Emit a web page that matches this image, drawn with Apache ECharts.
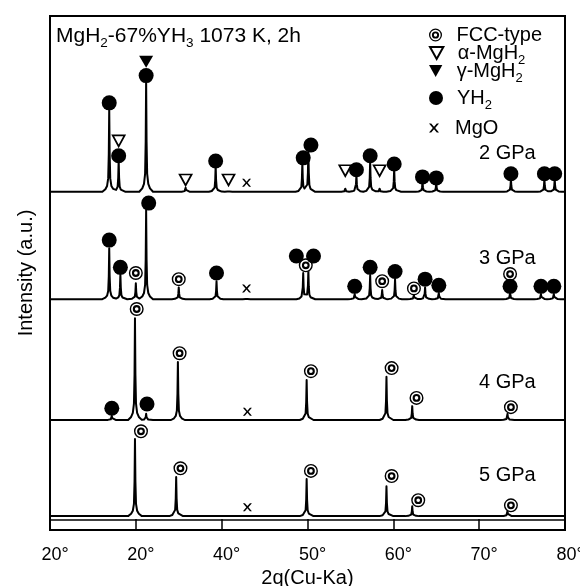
<!DOCTYPE html>
<html><head><meta charset="utf-8">
<script src="https://cdn.jsdelivr.net/npm/echarts@6/dist/echarts.min.js"></script>
<style>html,body{margin:0;padding:0;background:#fff}#c{width:580px;height:586px}</style>
</head><body><div id="c"></div>
<script>
const FONT = 'Liberation Sans, Arial, Helvetica, sans-serif';
const X_TICK_LABELS = ['20°','20°','40°','50°','60°','70°','80°'];
const PRESSURES = ['2 GPa','3 GPa','4 GPa','5 GPa'];
const BASELINES = [65.8, 44.9, 21.4, 2.7];

// peaks: [2theta, height above baseline]
const PEAKS_2GPA = [[26.9,16.3],[28.0,6.2],[31.2,21.8],[35.8,0.8],[39.3,5.1],[40.8,0.4],[49.4,5.6],[50.1,8.2],[54.4,0.6],[55.7,3.3],[57.3,6.0],[58.4,0.6],[60.1,4.5],[63.4,2.0],[65.0,1.8],[73.7,2.5],[77.6,2.5],[78.8,2.5]];
const PEAKS_3GPA = [[26.9,9.9],[28.2,4.9],[30.0,3.1],[31.2,17.3],[35.0,2.3],[39.4,3.5],[42.9,0.3],[49.5,5.0],[50.1,5.5],[55.5,1.0],[57.3,4.7],[58.7,1.8],[60.2,3.9],[62.4,0.8],[63.7,2.3],[65.3,1.2],[73.6,1.5],[77.2,1.0],[78.7,1.0]];
const PEAKS_4GPA = [[27.2,0.8],[29.9,19.8],[31.2,1.2],[34.9,11.3],[49.9,7.8],[59.2,8.4],[62.2,2.7],[73.3,1.2]];
const PEAKS_5GPA = [[29.9,15.0],[34.7,7.6],[49.9,7.2],[59.2,5.8],[62.2,1.9],[73.3,1.0]];

// phase markers: [2theta, height above baseline]
const FCC_2GPA = [];
const FCC_3GPA = [[30.0,5.1],[35.0,3.9],[49.8,6.6],[58.7,3.5],[62.4,2.1],[73.6,4.9]];
const FCC_4GPA = [[30.1,21.6],[35.1,13.0],[50.4,9.5],[59.8,10.1],[62.7,4.3],[73.7,2.5]];
const FCC_5GPA = [[30.6,16.5],[35.2,9.3],[50.4,8.8],[59.8,7.8],[62.9,3.1],[73.7,2.1]];
const ALPHA_2GPA = [[28.0,9.9],[35.8,2.3],[40.8,2.3],[54.4,4.1],[58.4,4.1]];
const GAMMA_2GPA = [[31.2,25.3]];
const YH2_2GPA = [[26.9,17.3],[28.0,7.0],[31.2,22.6],[39.3,6.0],[49.5,6.6],[50.4,9.1],[55.7,4.3],[57.3,7.0],[60.1,5.4],[63.4,2.9],[65.0,2.7],[73.7,3.5],[77.6,3.5],[78.8,3.5]];
const YH2_3GPA = [[26.9,11.5],[28.2,6.2],[31.5,18.7],[39.4,5.1],[48.7,8.4],[50.7,8.4],[55.5,2.5],[57.3,6.2],[60.2,5.4],[63.7,3.9],[65.3,2.7],[73.6,2.5],[77.2,2.5],[78.7,2.5]];
const YH2_4GPA = [[27.2,2.3],[31.3,3.1]];
const MGO_2GPA = [[42.9,1.75]];
const MGO_3GPA = [[42.9,2.1]];
const MGO_4GPA = [[43.0,1.6]];
const MGO_5GPA = [[43.0,1.75]];
const SEPARATOR_Y = 2.05;

const LEGEND_NAMES = ['FCC-type','α-MgH2','γ-MgH2','YH2','MgO'];

// drawing helpers (peak profile shape = style)
const SHAPE = [[-0.8,0],[-0.45,0.03],[-0.25,0.07],[-0.12,0.16],[-0.05,0.45],[0,1],[0.05,0.45],[0.12,0.16],[0.25,0.07],[0.45,0.03],[0.8,0]];
function shapeAt(dx){
  if (dx <= SHAPE[0][0] || dx >= SHAPE[SHAPE.length-1][0]) return 0;
  for (let k=1;k<SHAPE.length;k++){
    if (dx <= SHAPE[k][0]) {
      const [x0,y0]=SHAPE[k-1],[x1,y1]=SHAPE[k];
      return y0 + (y1-y0)*(dx-x0)/(x1-x0);
    }
  }
  return 0;
}
function buildTrace(peaks, base){
  const xs = new Set([20,80]);
  peaks.forEach(([p]) => SHAPE.forEach(([dx]) => xs.add(+(p+dx).toFixed(3))));
  return [...xs].filter(x=>x>=20&&x<=80).sort((a,b)=>a-b).map(x=>{
    let y = base;
    peaks.forEach(([p,h]) => { y += h*shapeAt(x-p); });
    return [x,y];
  });
}
const abs = (arr, i) => arr.map(([x,h]) => [x, h + BASELINES[i]]);
const ALL_PEAKS = [PEAKS_2GPA, PEAKS_3GPA, PEAKS_4GPA, PEAKS_5GPA];
const fccData = [].concat(abs(FCC_2GPA,0), abs(FCC_3GPA,1), abs(FCC_4GPA,2), abs(FCC_5GPA,3));
const alphaData = abs(ALPHA_2GPA,0);
const gammaData = abs(GAMMA_2GPA,0);
const yh2Data = [].concat(abs(YH2_2GPA,0), abs(YH2_3GPA,1), abs(YH2_4GPA,2));
const mgoData = [].concat(abs(MGO_2GPA,0), abs(MGO_3GPA,1), abs(MGO_4GPA,2), abs(MGO_5GPA,3));

const RING = 'path://M14,7A7,7,0,1,1,0,7A7,7,0,1,1,14,7Z M12.6,7A5.6,5.6,0,1,0,1.4,7A5.6,5.6,0,1,0,12.6,7Z M10.9,7A3.9,3.9,0,1,1,3.1,7A3.9,3.9,0,1,1,10.9,7Z M8.8,7A1.8,1.8,0,1,0,5.2,7A1.8,1.8,0,1,0,8.8,7Z';
const TRI = 'path://M0,0L10,0L5,9Z';
const CROSS = 'path://M0,0L2.2,0L5,3.3L7.8,0L10,0L6.2,4.5L10,9L7.8,9L5,5.7L2.2,9L0,9L3.8,4.5Z';

const RICH = {
  t:{fontSize:20, lineHeight:28, fontFamily:FONT, color:'#000'},
  s:{fontSize:13, lineHeight:12, verticalAlign:'bottom', fontFamily:FONT, color:'#000'}
};
const RICH_TITLE = {
  t:{fontSize:21, lineHeight:28, fontFamily:FONT, color:'#000'},
  s:{fontSize:13.5, lineHeight:12, verticalAlign:'bottom', fontFamily:FONT, color:'#000'}
};
const toRich = name => '{t|' + name.replace(/(\d)$/, '}{s|$1') + '}';

const chart = echarts.init(document.getElementById('c'), null, {renderer:'canvas'});
const lineSeries = PRESSURES.map((p,i)=>({
  type:'line', name:p, data: buildTrace(ALL_PEAKS[i], BASELINES[i]),
  symbol:'none', showSymbol:false, silent:true, z:2,
  lineStyle:{color:'#000', width:2, join:'round'},
  markLine: i===3 ? {symbol:'none', silent:true, label:{show:false},
    lineStyle:{color:'#000', width:1.6, type:'solid'}, data:[{yAxis:SEPARATOR_Y}]} : undefined
}));
const legendIconH = [13,12,12,14,9];
const legendCY = [34,52,70,97,127];
chart.setOption({
  animation:false,
  grid:{left:50, right:15, top:16, bottom:56, show:true, borderColor:'#000', borderWidth:2, backgroundColor:'transparent', containLabel:false, outerBoundsMode:'none'},
  xAxis:{type:'value', min:20, max:80, interval:10,
    axisLine:{show:true, lineStyle:{color:'#000', width:2}},
    axisTick:{show:true, inside:true, length:11, lineStyle:{color:'#000', width:1.5}},
    splitLine:{show:false},
    axisLabel:{color:'#000', fontSize:18, fontFamily:FONT, margin:16, padding:[0,0,0,10], hideOverlap:false,
      formatter:(v)=>X_TICK_LABELS[Math.round((v-20)/10)]},
    name:'2q(Cu-Ka)', nameLocation:'middle', nameGap:33,
    nameTextStyle:{color:'#000', fontSize:20, fontFamily:FONT}},
  yAxis:{type:'value', min:0, max:100,
    axisLine:{show:true, lineStyle:{color:'#000', width:2}},
    axisTick:{show:false}, axisLabel:{show:false}, splitLine:{show:false},
    name:'Intensity (a.u.)', nameLocation:'middle', nameGap:14, nameRotate:90,
    nameTextStyle:{color:'#000', fontSize:20, fontFamily:FONT}},
  legend: LEGEND_NAMES.map((n,i)=>({
    data:[n], orient:'vertical', left:429, top:legendCY[i]-9, padding:0,
    itemWidth:32, itemHeight:legendIconH[i], selectedMode:false,
    formatter: toRich, textStyle:{rich:RICH}
  })),
  graphic:[
    {type:'text', x:56, y:36, style:{text:'{t|MgH}{s|2}{t|-67%YH}{s|3}{t| 1073 K, 2h}', rich:RICH_TITLE, verticalAlign:'middle', align:'left'}},
    ...PRESSURES.map((p,i)=>({type:'text', x:479, y:[153,258,382,475][i],
      style:{text:p, font:'20px '+FONT, fill:'#000', verticalAlign:'middle', align:'left'}}))
  ],
  series:[
    ...lineSeries,
    {type:'scatter', name:'fccbg', data:fccData, symbol:'circle', symbolSize:13, itemStyle:{color:'#fff', opacity:1}, z:3, silent:true},
    {type:'scatter', name:'FCC-type', data:fccData, symbol:RING, symbolSize:14, itemStyle:{color:'#000', opacity:1}, z:4, silent:true},
    {type:'scatter', name:'α-MgH2', data:alphaData, symbol:TRI, symbolSize:[12,11], itemStyle:{color:'#fff', borderColor:'#000', borderWidth:1.7, opacity:1}, z:4, silent:true},
    {type:'scatter', name:'γ-MgH2', data:gammaData, symbol:TRI, symbolSize:[14,12], itemStyle:{color:'#000', opacity:1}, z:4, silent:true},
    {type:'scatter', name:'YH2', data:yh2Data, symbol:'circle', symbolSize:15, itemStyle:{color:'#000', opacity:1}, z:4, silent:true},
    {type:'scatter', name:'MgO', data:mgoData, symbol:CROSS, symbolSize:[9,8], itemStyle:{color:'#000', opacity:1}, z:4, silent:true}
  ]
});
</script></body></html>
